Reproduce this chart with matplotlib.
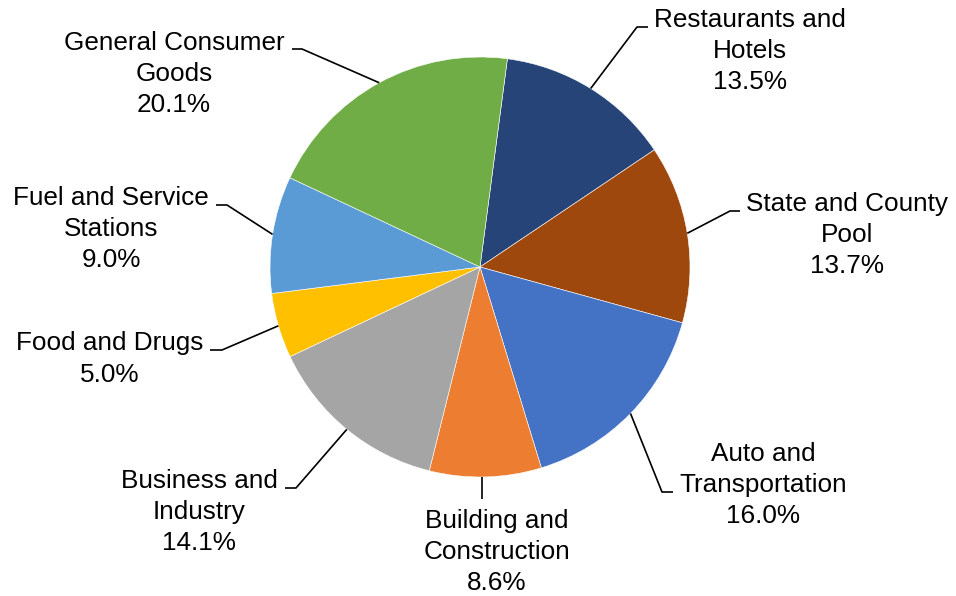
import matplotlib
matplotlib.use("Agg")
import matplotlib.pyplot as plt
import numpy as np

# data, clockwise from the top
categories = ["Restaurants and\nHotels", "State and County\nPool", "Auto and\nTransportation",
              "Building and\nConstruction", "Business and\nIndustry", "Food and Drugs",
              "Fuel and Service\nStations", "General Consumer\nGoods"]
shares = [13.5, 13.7, 16.0, 8.6, 14.1, 5.0, 9.0, 20.1]
colors = ["#264478", "#9E480E", "#4472C4", "#ED7D31", "#A5A5A5", "#FFC000", "#5B9BD5", "#70AD47"]

# layout in pixels (x, y from top): label centre, leader elbow, leader end
W, H = 956, 596
label_xy = [(750, 51), (847, 235), (763, 485), (497, 552), (199, 512), (110, 359), (111, 229), (174, 74)]
elbow_xy = [(637, 27), (730, 211), (662, 492), (482, 499), (296, 488), (222, 350), (227, 205), (302, 49)]
end_xy = [(648, 27), (740, 211), (673, 492), (482, 499), (285, 488), (210, 350), (216, 205), (292, 49)]
cx, cy, R = 480, 267, 210

plt.rcParams["font.family"] = ["Liberation Sans", "DejaVu Sans"]
fig = plt.figure(figsize=(W / 100, H / 100), dpi=100)
ax = fig.add_axes([0, 0, 1, 1])
ax.set_xlim(0, W)
ax.set_ylim(0, H)
ax.set_aspect("equal")
ax.axis("off")

wedges, _ = ax.pie(shares, colors=colors, center=(cx, H - cy), radius=R,
                   startangle=82.5, counterclock=False,
                   wedgeprops=dict(edgecolor="white", linewidth=0.4))
ax.set_xlim(0, W)
ax.set_ylim(0, H)

for i, w in enumerate(wedges):
    mid = np.deg2rad((w.theta1 + w.theta2) / 2)
    ex = cx + R * np.cos(mid)
    ey = (H - cy) + R * np.sin(mid)
    if elbow_xy[i] == end_xy[i]:
        # straight drop below the pie
        ex = elbow_xy[i][0]
    xs = [ex, elbow_xy[i][0], end_xy[i][0]]
    ys = [ey, H - elbow_xy[i][1], H - end_xy[i][1]]
    ax.plot(xs, ys, color="black", linewidth=1.2, solid_capstyle="butt")
    ax.text(label_xy[i][0], H - label_xy[i][1], "%s\n%.1f%%" % (categories[i], shares[i]),
            ha="center", va="center", fontsize=18.8, linespacing=1.37, color="black")

fig.savefig("out.png", dpi=100)
